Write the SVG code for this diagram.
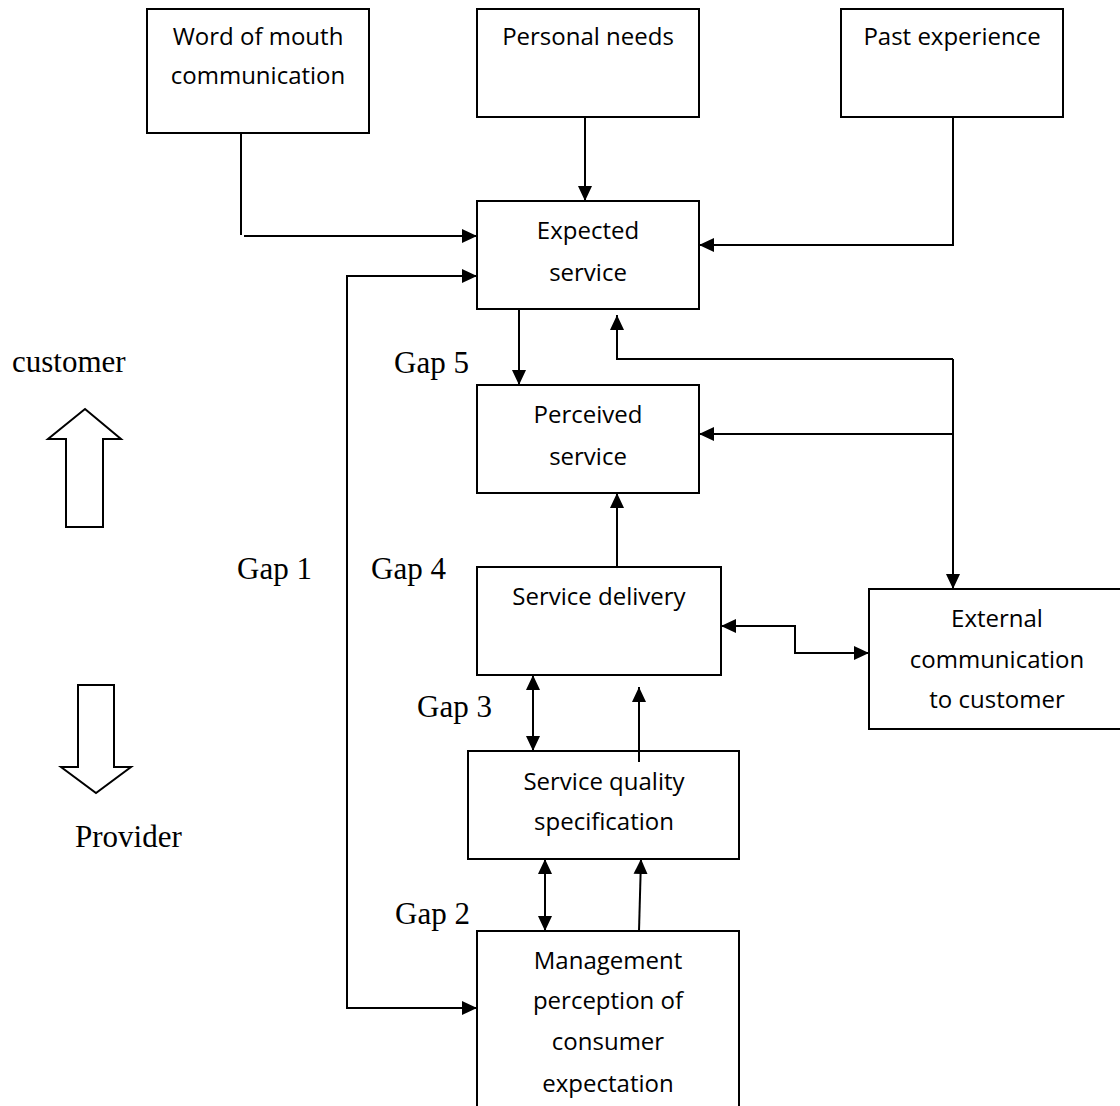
<svg xmlns="http://www.w3.org/2000/svg" width="1120" height="1106" viewBox="0 0 1120 1106">
<style>
.box{fill:#fff;stroke:#000;stroke-width:2}
.t{font-family:"Open Sans","Liberation Sans",sans-serif;font-size:24px;fill:#000;text-anchor:middle}
.g{font-family:"Liberation Serif","Times New Roman",serif;font-size:31px;fill:#000}
.c{fill:none;stroke:#000;stroke-width:2}
.a{marker-end:url(#ah)}
.b{marker-start:url(#ah);marker-end:url(#ah)}
.blk{fill:#fff;stroke:#000;stroke-width:2}
</style>
<defs>
<marker id="ah" markerUnits="userSpaceOnUse" markerWidth="16" markerHeight="16" refX="15" refY="7" orient="auto-start-reverse" viewBox="0 0 16 14">
<path d="M0,0 L15,7 L0,14 Z" fill="#000"/>
</marker>
</defs>
<rect width="1120" height="1106" fill="#fff"/>
<g id="n-word"><rect class="box" x="147" y="9" width="222" height="124"/><text class="t" x="258" y="45">Word of mouth</text><text class="t" x="258" y="84">communication</text></g>
<g id="n-personal"><rect class="box" x="477" y="9" width="222" height="108"/><text class="t" x="588" y="45">Personal needs</text></g>
<g id="n-past"><rect class="box" x="841" y="9" width="222" height="108"/><text class="t" x="952" y="45">Past experience</text></g>
<g id="n-expected"><rect class="box" x="477" y="201" width="222" height="108"/><text class="t" x="588" y="239">Expected</text><text class="t" x="588" y="281">service</text></g>
<g id="n-perceived"><rect class="box" x="477" y="385" width="222" height="108"/><text class="t" x="588" y="423">Perceived</text><text class="t" x="588" y="465">service</text></g>
<g id="n-delivery"><rect class="box" x="477" y="567" width="244" height="108"/><text class="t" x="599" y="605">Service delivery</text></g>
<g id="n-external"><rect class="box" x="869" y="589" width="260" height="140"/><text class="t" x="997" y="627">External</text><text class="t" x="997" y="668">communication</text><text class="t" x="997" y="708">to customer</text></g>
<g id="n-spec"><rect class="box" x="468" y="751" width="271" height="108"/><text class="t" x="604" y="790">Service quality</text><text class="t" x="604" y="830">specification</text></g>
<g id="n-mgmt"><rect class="box" x="477" y="931" width="262" height="190"/><text class="t" x="608" y="969">Management</text><text class="t" x="608" y="1009">perception of</text><text class="t" x="608" y="1050">consumer</text><text class="t" x="608" y="1092">expectation</text></g>
<g id="labels">
<text class="g" x="12" y="372">customer</text>
<text class="g" x="75" y="847">Provider</text>
<text class="g" x="394" y="373">Gap 5</text>
<text class="g" x="237" y="579">Gap 1</text>
<text class="g" x="371" y="579">Gap 4</text>
<text class="g" x="417" y="717">Gap 3</text>
<text class="g" x="395" y="924">Gap 2</text>
</g>
<g id="block-arrows">
<polygon class="blk" points="85,409 121,439 103,439 103,527 66,527 66,439 48,439"/>
<polygon class="blk" points="78,685 114,685 114,767 131,767 96,793 61,767 78,767"/>
</g>
<g id="connectors">
<path class="c" d="M241,133 V235"/>
<path class="c a" d="M244,236 H477"/>
<path class="c a" d="M585,117 V201"/>
<path class="c a" d="M953,117 V245 H699"/>
<path class="c b" d="M477,276 H347 V1008 H477"/>
<path class="c a" d="M519,309 V385"/>
<path class="c a" d="M953,359 H617 V315"/>
<path class="c a" d="M953,359 V589"/>
<path class="c a" d="M953,434 H699"/>
<path class="c a" d="M617,567 V493"/>
<path class="c b" d="M721,626 H795 V653 H869"/>
<path class="c b" d="M533,675 V751"/>
<path class="c a" d="M639,762 V687"/>
<path class="c b" d="M545,859 V931"/>
<path class="c a" d="M639,931 L641,859"/>
</g>
</svg>
